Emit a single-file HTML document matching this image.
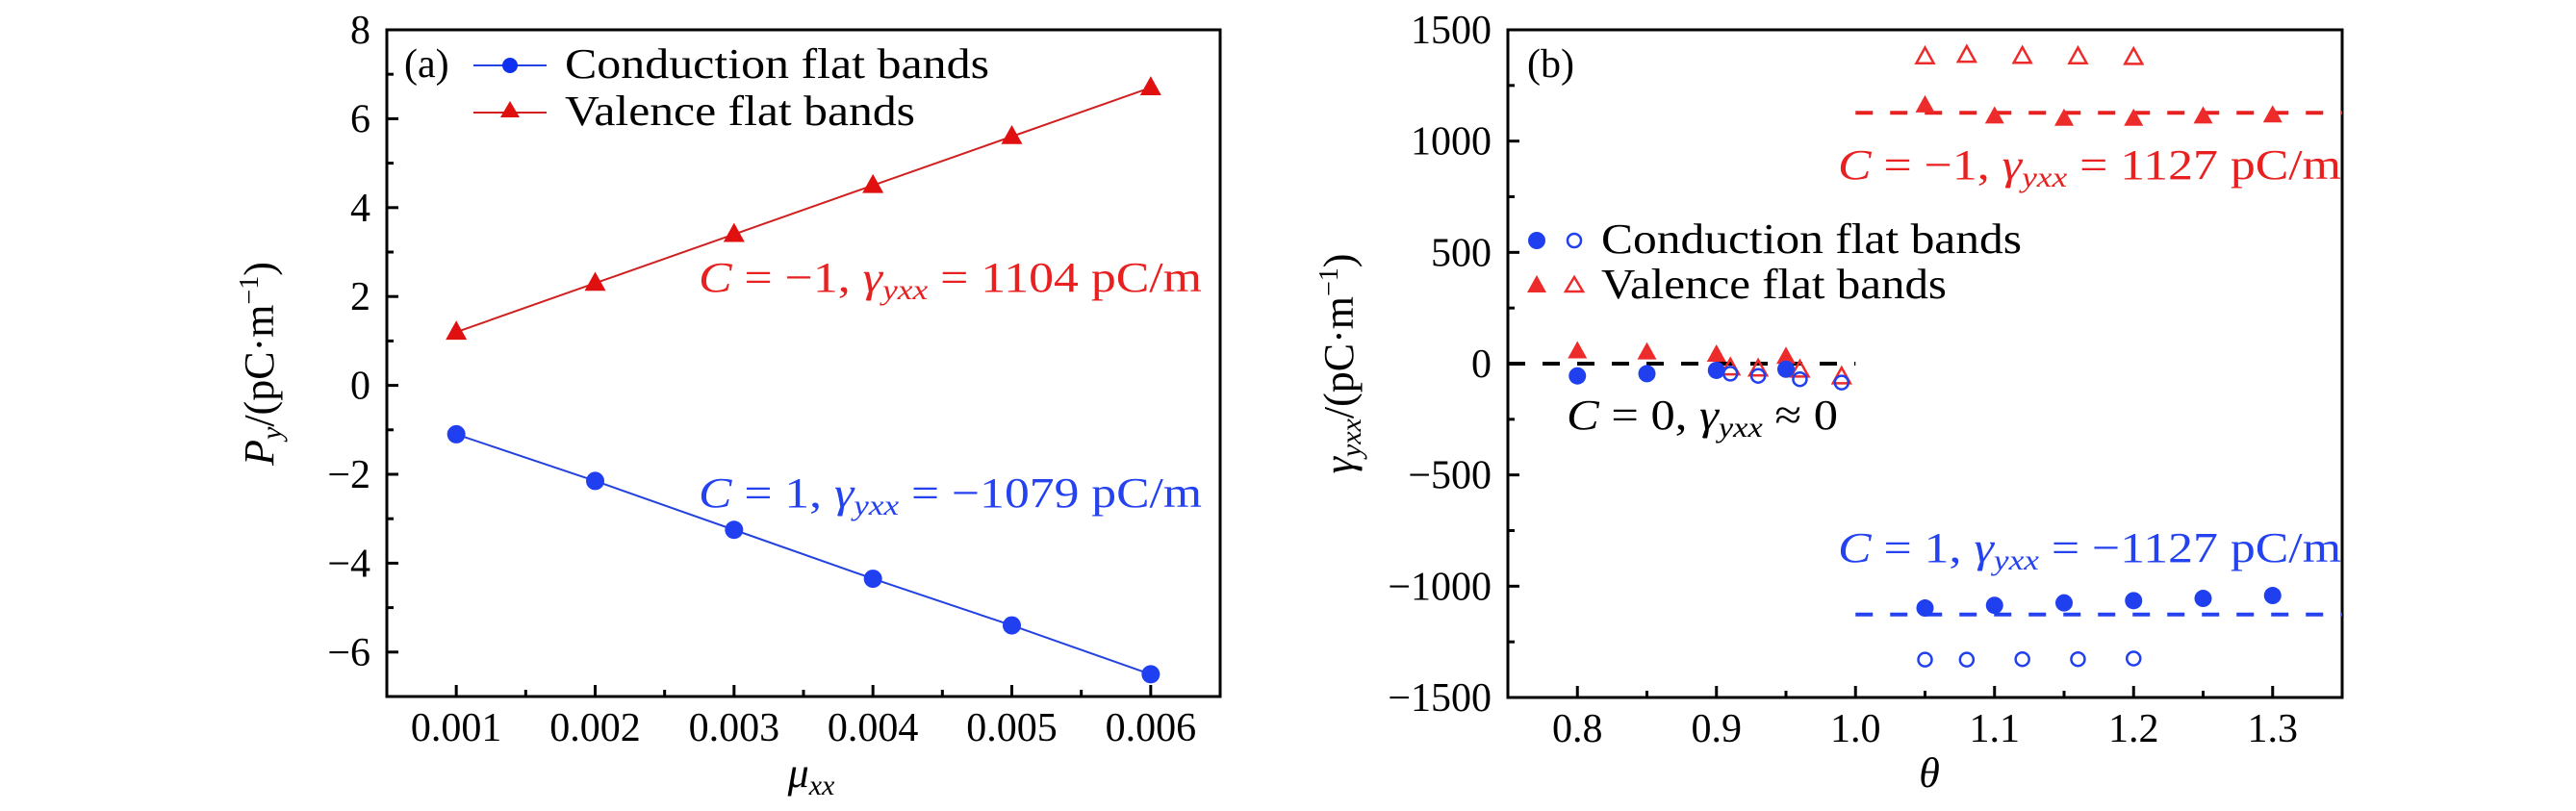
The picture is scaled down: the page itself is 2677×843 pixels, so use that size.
<!DOCTYPE html>
<html><head><meta charset="utf-8"><style>
html,body{margin:0;padding:0;background:#fff}
svg{display:block}
text{font-family:"Liberation Serif",serif}
</style></head><body>
<svg id="chart" width="2677" height="843" viewBox="0 0 2677 843" xmlns="http://www.w3.org/2000/svg">
<g id="pa"></g>
<g id="pb"></g>
<!-- panel a labels -->
<text x="420" y="80" font-size="42">(a)</text>
<g>
<line x1="492" y1="68" x2="568" y2="68" stroke="#2442e0" stroke-width="2"/>
<circle cx="530" cy="68" r="8" fill="#1030f0"/>
<text x="587" y="81" font-size="44" textLength="441" lengthAdjust="spacingAndGlyphs">Conduction flat bands</text>
<line x1="492" y1="117" x2="568" y2="117" stroke="#d02020" stroke-width="2"/>
<polygon points="530,105 540,122 520,122" fill="#e01010"/>
<text x="587" y="130" font-size="44" textLength="364" lengthAdjust="spacingAndGlyphs">Valence flat bands</text>
</g>
<text x="726" y="303" font-size="44" fill="#e82020" textLength="523" lengthAdjust="spacingAndGlyphs"><tspan font-style="italic">C</tspan> = −1, <tspan font-style="italic">γ</tspan><tspan font-style="italic" font-size="30" dy="8">yxx</tspan><tspan dy="-8"> = 1104 pC/m</tspan></text>
<text x="726" y="527" font-size="44" fill="#2442f0" textLength="523" lengthAdjust="spacingAndGlyphs"><tspan font-style="italic">C</tspan> = 1, <tspan font-style="italic">γ</tspan><tspan font-style="italic" font-size="30" dy="8">yxx</tspan><tspan dy="-8"> = −1079 pC/m</tspan></text>
<text transform="translate(284,378) rotate(-90)" text-anchor="middle" font-size="44"><tspan font-style="italic">P</tspan><tspan font-style="italic" font-size="30" dy="8">y</tspan><tspan dy="-8">/(pC·m</tspan><tspan font-size="28" dy="-16">−1</tspan><tspan dy="16">)</tspan></text>
<text x="843" y="818" text-anchor="middle" font-size="44" font-style="italic">μ<tspan font-size="30" dy="8">xx</tspan></text>
<!-- panel b labels -->
<text x="1587" y="80" font-size="42">(b)</text>
<g>
<circle cx="1597" cy="250" r="9" fill="#2040f0"/>
<circle cx="1636" cy="250" r="7" fill="none" stroke="#2040f0" stroke-width="2.5"/>
<text x="1664" y="263" font-size="44" textLength="437" lengthAdjust="spacingAndGlyphs">Conduction flat bands</text>
<polygon points="1597,286 1607,304 1587,304" fill="#ee2b2b"/>
<polygon points="1636,288 1645,303 1627,303" fill="none" stroke="#ee2b2b" stroke-width="2.5"/>
<text x="1664" y="310" font-size="44" textLength="359" lengthAdjust="spacingAndGlyphs">Valence flat bands</text>
</g>
<text x="1910" y="186" font-size="44" fill="#e82020" textLength="523" lengthAdjust="spacingAndGlyphs"><tspan font-style="italic">C</tspan> = −1, <tspan font-style="italic">γ</tspan><tspan font-style="italic" font-size="30" dy="8">yxx</tspan><tspan dy="-8"> = 1127 pC/m</tspan></text>
<text x="1910" y="584" font-size="44" fill="#2442f0" textLength="523" lengthAdjust="spacingAndGlyphs"><tspan font-style="italic">C</tspan> = 1, <tspan font-style="italic">γ</tspan><tspan font-style="italic" font-size="30" dy="8">yxx</tspan><tspan dy="-8"> = −1127 pC/m</tspan></text>
<text x="1628" y="446" font-size="44" fill="#000" textLength="282" lengthAdjust="spacingAndGlyphs"><tspan font-style="italic">C</tspan> = 0, <tspan font-style="italic">γ</tspan><tspan font-style="italic" font-size="30" dy="8">yxx</tspan><tspan dy="-8"> ≈ 0</tspan></text>
<text transform="translate(1406,378) rotate(-90)" text-anchor="middle" font-size="44"><tspan font-style="italic">γ</tspan><tspan font-style="italic" font-size="30" dy="8">yxx</tspan><tspan dy="-8">/(pC·m</tspan><tspan font-size="28" dy="-16">−1</tspan><tspan dy="16">)</tspan></text>
<text x="2005" y="818" text-anchor="middle" font-size="44" font-style="italic">θ</text>
</svg>
<script>
// Panel (a) data
const aX = [0.001, 0.002, 0.003, 0.004, 0.005, 0.006];
const aConduction = [-1.1, -2.15, -3.25, -4.35, -5.4, -6.5];
const aValence = [1.2, 2.3, 3.4, 4.5, 5.6, 6.7];
const aXTicks = [0.001, 0.002, 0.003, 0.004, 0.005, 0.006];
const aXTickLabels = ["0.001", "0.002", "0.003", "0.004", "0.005", "0.006"];
const aYTicks = [-6, -4, -2, 0, 2, 4, 6, 8];
const aYTickLabels = ["−6", "−4", "−2", "0", "2", "4", "6", "8"];
// Panel (b) data
const bFilledTriX = [0.8, 0.85, 0.9, 0.95, 1.05, 1.1, 1.15, 1.2, 1.25, 1.3];
const bFilledTriY = [55, 50, 40, 30, 1160, 1110, 1100, 1100, 1110, 1115];
const bOpenTriX = [0.91, 0.93, 0.96, 0.99, 1.05, 1.08, 1.12, 1.16, 1.2];
const bOpenTriY = [-20, -25, -30, -60, 1378, 1385, 1380, 1378, 1375];
const bFilledCircX = [0.8, 0.85, 0.9, 0.95, 1.05, 1.1, 1.15, 1.2, 1.25, 1.3];
const bFilledCircY = [-55, -45, -30, -25, -1098, -1086, -1075, -1065, -1055, -1042];
const bOpenCircX = [0.91, 0.93, 0.96, 0.99, 1.05, 1.08, 1.12, 1.16, 1.2];
const bOpenCircY = [-45, -55, -70, -85, -1330, -1330, -1328, -1328, -1325];
const bRefLevels = [0, 1127, -1127];
const bRefFrom = [0.75, 1.0, 1.0];
const bRefTo = [1.0, 1.35, 1.35];
const bXTicks = [0.8, 0.9, 1.0, 1.1, 1.2, 1.3];
const bXTickLabels = ["0.8", "0.9", "1.0", "1.1", "1.2", "1.3"];
const bYTicks = [-1500, -1000, -500, 0, 500, 1000, 1500];
const bYTickLabels = ["−1500", "−1000", "−500", "0", "500", "1000", "1500"];

const NS = "http://www.w3.org/2000/svg";
function mk(parent, tag, attrs) {
  const e = document.createElementNS(NS, tag);
  for (const k in attrs) e.setAttribute(k, attrs[k]);
  parent.appendChild(e);
  return e;
}
function scale(d0, d1, r0, r1) { return v => r0 + (v - d0) / (d1 - d0) * (r1 - r0); }

const ga = document.getElementById('pa');
const axA = scale(0.0005, 0.0065, 402, 1268);
const ayA = scale(-7, 8, 724, 31);
const gb = document.getElementById('pb');
const axB = scale(0.75, 1.35, 1567, 2434);
const ayB = scale(-1500, 1500, 725, 31);

function drawFrame(g, L, R, T, B) {
  const r = mk(g, 'rect', {x: L, y: T, width: R - L, height: B - T, fill: 'none', stroke: '#000', 'stroke-width': 3});
  
  
}
function ticksX(g, ax, ticks, labels, minors, B) {
  ticks.forEach((t, i) => {
    const x = ax(t);
    mk(g, 'line', {x1: x, y1: B, x2: x, y2: B - 12, stroke: '#000', 'stroke-width': 3});
    const tx = mk(g, 'text', {x: x, y: B + 46, 'text-anchor': 'middle', 'font-size': 42});
    tx.textContent = labels[i];
    
    
  });
  minors.forEach(t => {
    const x = ax(t);
    mk(g, 'line', {x1: x, y1: B, x2: x, y2: B - 7, stroke: '#000', 'stroke-width': 3});
  });
}
function ticksY(g, ay, ticks, labels, minors, L, labelRight) {
  ticks.forEach((t, i) => {
    const y = ay(t);
    mk(g, 'line', {x1: L, y1: y, x2: L + 12, y2: y, stroke: '#000', 'stroke-width': 3});
    const tx = mk(g, 'text', {x: labelRight, y: y + 14, 'text-anchor': 'end', 'font-size': 42});
    tx.textContent = labels[i];
    
    
  });
  minors.forEach(t => {
    const y = ay(t);
    mk(g, 'line', {x1: L, y1: y, x2: L + 7, y2: y, stroke: '#000', 'stroke-width': 3});
  });
}
function tri(g, cx, cy, s, filled, color) {
  const h = s * 0.9;
  return mk(g, 'polygon', {points: `${cx},${cy - h * 0.6} ${cx + s / 2},${cy + h * 0.4} ${cx - s / 2},${cy + h * 0.4}`,
    fill: filled ? color : 'none', stroke: filled ? 'none' : color, 'stroke-width': 2.5});
}

// ---- Panel a ----
drawFrame(ga, 402, 1268, 31, 724);
ticksX(ga, axA, aXTicks, aXTickLabels, [0.0015, 0.0025, 0.0035, 0.0045, 0.0055], 724);
ticksY(ga, ayA, aYTicks, aYTickLabels, [-7, -5, -3, -1, 1, 3, 5, 7], 402, 385);
let pts = aX.map((x, i) => axA(x) + ',' + ayA(aConduction[i])).join(' ');
let pl = mk(ga, 'polyline', {points: pts, fill: 'none', stroke: '#2442e0', 'stroke-width': 2});


pts = aX.map((x, i) => axA(x) + ',' + ayA(aValence[i])).join(' ');
pl = mk(ga, 'polyline', {points: pts, fill: 'none', stroke: '#d02020', 'stroke-width': 2});


aX.forEach((x, i) => {
  const c = mk(ga, 'circle', {cx: axA(x), cy: ayA(aConduction[i]), r: 9.5, fill: '#1f3ff0'});
  
  
  const t = tri(ga, axA(x), ayA(aValence[i]), 22, true, '#e01010');
  
  
});

// ---- Panel b ----
drawFrame(gb, 1567, 2434, 31, 725);
ticksX(gb, axB, bXTicks, bXTickLabels, [0.85, 0.95, 1.05, 1.15, 1.25], 725);
ticksY(gb, ayB, bYTicks, bYTickLabels, [-1250, -750, -250, 250, 750, 1250], 1567, 1550);
const refColors = ['#000', '#e82020', '#2442f0'];
bRefLevels.forEach((v, i) => {
  const l = mk(gb, 'line', {x1: axB(bRefFrom[i]), y1: ayB(v), x2: axB(bRefTo[i]), y2: ayB(v),
    stroke: refColors[i], 'stroke-width': 4, 'stroke-dasharray': '18 18'});
  
  
});
bFilledTriX.forEach((x, i) => {
  const t = tri(gb, axB(x), ayB(bFilledTriY[i]), 20, true, '#ee2b2b');
  
  
});
bOpenTriX.forEach((x, i) => {
  const t = tri(gb, axB(x), ayB(bOpenTriY[i]), 18, false, '#ee2b2b');
  
  
});
bFilledCircX.forEach((x, i) => {
  const c = mk(gb, 'circle', {cx: axB(x), cy: ayB(bFilledCircY[i]), r: 9, fill: '#2040f0'});
  
  
});
bOpenCircX.forEach((x, i) => {
  const c = mk(gb, 'circle', {cx: axB(x), cy: ayB(bOpenCircY[i]), r: 7, fill: 'none', stroke: '#2040f0', 'stroke-width': 2.5});
  
  
});
</script>
</body></html>
